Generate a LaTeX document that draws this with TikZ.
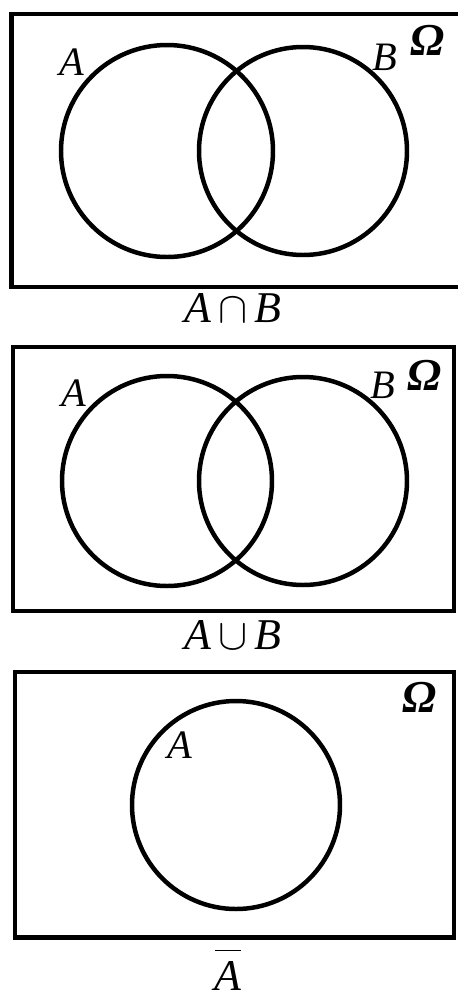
\documentclass[tikz,border=0pt]{standalone}
\usepackage{amsmath,amssymb}
\usepackage{fontspec}
\setmainfont{Liberation Serif}
\usepackage{tikz}
\usetikzlibrary{positioning, calc}

\begin{document}
\begin{tikzpicture}[
    x=0.02cm, y=-0.02cm,
    frame/.style={draw=black, line width=5*0.567pt},
    setline/.style={draw=black, line width=4.5*0.567pt},
    lbl/.style={inner sep=0pt, font=\fontsize{23}{25}\selectfont\itshape},
    omega/.style={inner sep=0pt, font=\fontsize{26}{28}\selectfont\bfseries\itshape},
    capt/.style={inner sep=0pt, font=\fontsize{25}{27}\selectfont\itshape}
]
    \useasboundingbox (0,0) rectangle (457,998);

    % panel 1: intersection
    \draw[frame] (470,14) -- (11.5,14) -- (11.5,287) -- (470,287);
    \draw[setline] (167,151) circle (106);
    \draw[setline] (303,151) circle (104);
    \node[lbl] (a1) at (72,62) {A};
    \node[lbl] (b1) at (385,57) {B};
    \node[omega] (om1) at (428,40) {Ω};
    \node[capt] (cap1) at (233,308) {A$\,\cap\,$B};

    % panel 2: union
    \draw[frame] (13,347) rectangle (454,611);
    \draw[setline] (167,481) circle (105);
    \draw[setline] (303,481) circle (104);
    \node[lbl] (a2) at (74,393) {A};
    \node[lbl] (b2) at (383,385) {B};
    \node[omega] (om2) at (425,375) {Ω};
    \node[capt] (cap2) at (233,635) {A$\,\cup\,$B};

    % panel 3: complement
    \draw[frame] (15,672) rectangle (454,937);
    \draw[setline] (236,805) circle (104);
    \node[lbl] (a3) at (180,745) {A};
    \node[omega] (om3) at (420,697) {Ω};
    \node[capt, anchor=base] (cap3) at (228,990) {$\overline{\rule{0pt}{19pt}\mbox{\itshape A}}$};
\end{tikzpicture}
\end{document}
